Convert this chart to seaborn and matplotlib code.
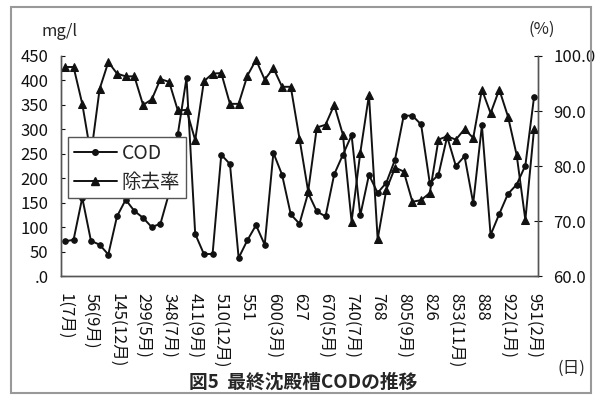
import seaborn as sns
import matplotlib.pyplot as plt
import matplotlib.patches as patches
from matplotlib.lines import Line2D
import pandas as pd

# values (one point per sampling day)
cod = [71, 74, 160, 72, 64, 44, 122, 156, 133, 119, 100, 107, 170, 290, 405,
       86, 45, 45, 248, 229, 37, 73, 104, 64, 252, 207, 126, 107, 170, 132,
       122, 208, 248, 288, 124, 207, 170, 191, 238, 328, 328, 310, 190, 207,
       285, 225, 245, 149, 308, 84, 127, 168, 187, 226, 366]
removal = [98.0, 98.0, 91.3, 82.0, 94.0, 98.9, 96.8, 96.3, 96.3, 91.1, 92.1,
           95.8, 95.3, 90.1, 90.2, 84.7, 95.4, 96.8, 96.9, 91.3, 91.3, 96.4,
           99.3, 95.7, 97.8, 94.4, 94.4, 85.0, 75.4, 87.0, 87.5, 91.1, 85.7,
           69.9, 82.4, 92.9, 66.7, 75.7, 79.7, 79.0, 73.5, 73.8, 75.1, 84.8,
           85.4, 84.8, 86.7, 85.1, 93.9, 89.6, 93.9, 89.0, 82.0, 70.2, 86.7]
day_labels = ["1(7月)", "56(9月)", "145(12月)", "299(5月)", "348(7月)",
              "411(9月)", "510(12月)", "551", "600(3月)", "627", "670(5月)",
              "740(7月)", "768", "805(9月)", "826", "853(11月)", "888",
              "922(1月)", "951(2月)"]
cod_ticks = [0, 50, 100, 150, 200, 250, 300, 350, 400, 450]
cod_tick_labels = [".0", "50", "100", "150", "200", "250", "300", "350", "400", "450"]
rate_ticks = [60, 70, 80, 90, 100]

df = pd.DataFrame({"idx": range(len(cod)), "COD": cod, "rate": removal})

sns.set_style("white")
plt.rcParams["font.family"] = ["Noto Sans CJK JP", "DejaVu Sans"]

fig = plt.figure(figsize=(5.96, 3.98), dpi=100)
ax = fig.add_axes([0.1023, 0.3065, 0.8003, 0.5528])

sns.lineplot(data=df, x="idx", y="COD", ax=ax, color="#111111", marker="o",
             markersize=4, markeredgecolor="#111111", linewidth=1.4, legend=False)
ax.set_ylim(0, 450)
ax.set_xlim(-0.45, len(cod) - 0.55)
ax.set_yticks(cod_ticks)
ax.set_yticklabels(cod_tick_labels, fontsize=12)
ax.set_xticks(range(0, len(cod), 3))
ax.set_xticklabels(day_labels, rotation=-90, fontsize=12, va="top", ha="center")
ax.set_xlabel("")
ax.set_ylabel("")
ax.tick_params(axis="y", direction="in", length=3, pad=9, colors="#111111")
ax.tick_params(axis="x", direction="inout", length=4, pad=10, colors="#111111")

ax2 = ax.twinx()
sns.lineplot(data=df, x="idx", y="rate", ax=ax2, color="#111111", marker="^",
             markersize=6, markeredgecolor="#111111", linewidth=1.4, legend=False)
ax2.set_ylim(60, 100)
ax2.set_yticks(rate_ticks)
ax2.set_yticklabels([f"{v:.1f}" for v in rate_ticks], fontsize=12)
ax2.set_ylabel("")
ax2.tick_params(axis="y", direction="inout", length=6, pad=8, colors="#111111")

for a in (ax, ax2):
    a.spines["top"].set_visible(False)
    for s in ("left", "right", "bottom"):
        a.spines[s].set_color("#555555")
        a.spines[s].set_linewidth(1.0)

# legend
handles = [
    Line2D([], [], color="#111111", marker="o", markersize=4, linewidth=1.4),
    Line2D([], [], color="#111111", marker="^", markersize=6, linewidth=1.4),
]
leg = ax2.legend(handles, ["COD", "除去率"], loc="upper left",
                 bbox_to_anchor=(0.015, 0.632), borderaxespad=0, fontsize=14,
                 frameon=True, fancybox=False, framealpha=1, edgecolor="#555555",
                 handlelength=2.2, labelspacing=0.4, borderpad=0.3,
                 handletextpad=0.25)
leg.get_frame().set_linewidth(1.0)

# units and caption
fig.text(60 / 596, 1 - 31 / 398, "mg/l", fontsize=12, ha="center", va="center")
fig.text(542 / 596, 1 - 29 / 398, "(%)", fontsize=12, ha="center", va="center")
fig.text(571 / 596, 1 - 368 / 398, "(日)", fontsize=12, ha="center", va="center")
fig.text(303 / 596, 1 - 382 / 398, "図5  最終沈殿槽CODの推移", fontsize=13.5,
         fontweight="bold", ha="center", va="center")

# scanned page frame
fig.patches.append(patches.Rectangle((11 / 596, 5 / 398), 580 / 596, 386 / 398,
                                     transform=fig.transFigure, fill=False,
                                     edgecolor="#999999", linewidth=1.5))

fig.savefig("out.png", dpi=100)
